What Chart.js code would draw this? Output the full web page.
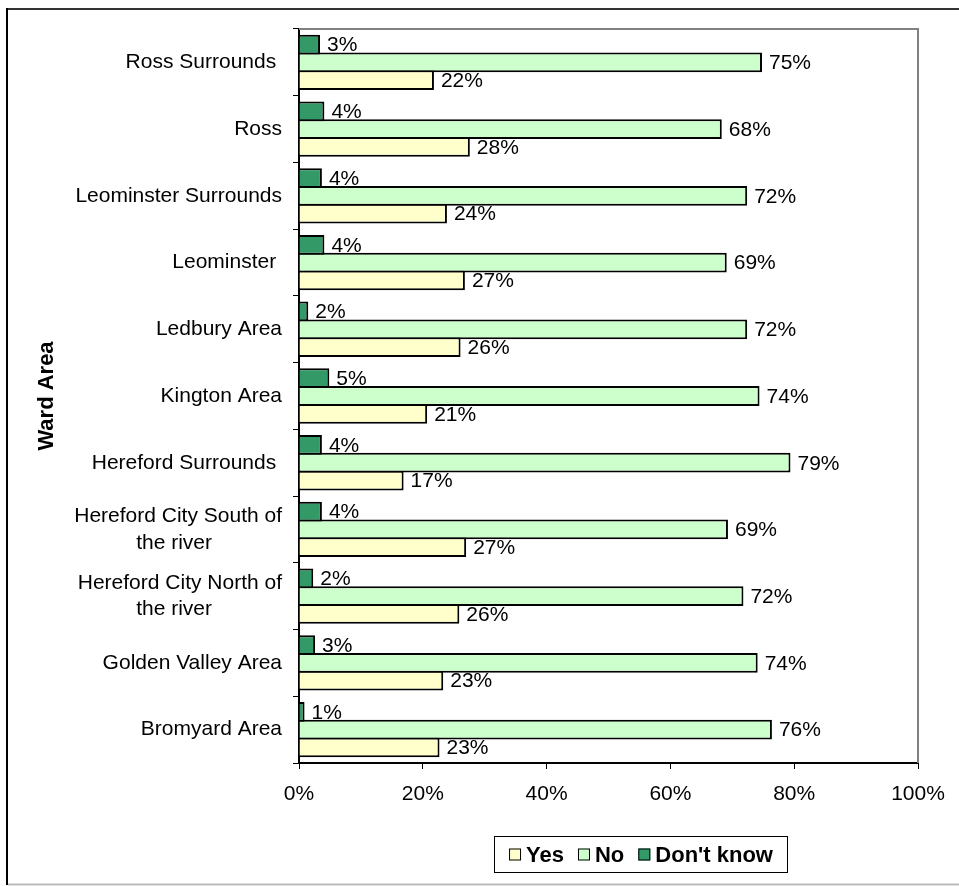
<!DOCTYPE html>
<html>
<head>
<meta charset="utf-8">
<script src="https://cdn.jsdelivr.net/npm/chart.js@4.4.0/dist/chart.umd.min.js"></script>
<style>
  html, body { margin: 0; padding: 0; background: #fff; }
  #wrap { width: 959px; height: 886px; position: relative; }
</style>
</head>
<body>
<div id="wrap"><canvas id="barchart"></canvas></div>
<script>
// categories listed bottom-to-top, like the Excel original (axis is reversed)
const wards = [
  'Bromyard Area',
  'Golden Valley Area',
  ['Hereford City North of', 'the river            '],
  ['Hereford City South of', 'the river            '],
  'Hereford Surrounds ',
  'Kington Area',
  'Ledbury Area',
  'Leominster ',
  'Leominster Surrounds',
  'Ross',
  'Ross Surrounds '
];
const yesValues      = [22.7, 23.3, 25.9, 27.0, 16.9, 20.7, 26.1, 26.8, 23.9, 27.6, 21.8];
const noValues       = [76.4, 74.1, 71.8, 69.3, 79.4, 74.4, 72.4, 69.1, 72.4, 68.3, 74.8];
const dontKnowValues = [0.9, 2.6, 2.3, 3.7, 3.7, 4.9, 1.5, 4.1, 3.7, 4.1, 3.4];
const xTicks = [0, 20, 40, 60, 80, 100];

const FONT = '"Liberation Sans", Arial, sans-serif';

// outer chart frame + plot area frame
const frames = {
  id: 'frames',
  beforeDraw(chart) {
    const ctx = chart.ctx;
    ctx.save();
    ctx.fillStyle = '#fff';
    ctx.fillRect(0, 0, chart.width, chart.height);
    ctx.lineWidth = 2;
    ctx.strokeStyle = '#333';
    ctx.beginPath();
    ctx.moveTo(7, 9); ctx.lineTo(chart.width, 9);
    ctx.stroke();
    ctx.strokeStyle = '#000';
    ctx.beginPath();
    ctx.moveTo(7, 8); ctx.lineTo(7, 885);
    ctx.stroke();
    ctx.strokeStyle = '#bbb';
    ctx.beginPath();
    ctx.moveTo(8, 884.5); ctx.lineTo(chart.width, 884.5);
    ctx.stroke();
    ctx.restore();
  },
  beforeDatasetsDraw(chart) {
    const {ctx, chartArea: a} = chart;
    ctx.save();
    ctx.strokeStyle = '#808080';
    ctx.lineWidth = 2;
    ctx.beginPath();
    ctx.moveTo(a.left, a.top);
    ctx.lineTo(a.right, a.top);
    ctx.lineTo(a.right, a.bottom);
    ctx.stroke();
    ctx.restore();
  }
};

// percentage labels at the end of each bar
const barLabels = {
  id: 'barLabels',
  afterDatasetsDraw(chart) {
    const ctx = chart.ctx;
    ctx.save();
    ctx.font = '21px ' + FONT;
    ctx.fillStyle = '#000';
    ctx.textAlign = 'left';
    ctx.textBaseline = 'middle';
    chart.data.datasets.forEach((ds, i) => {
      chart.getDatasetMeta(i).data.forEach((bar, j) => {
        ctx.fillText(Math.round(ds.data[j]) + '%', bar.x + 7, bar.y + 1);
      });
    });
    ctx.restore();
  }
};

// boxed legend, placed like the original (Yes, No, Don't know)
const legendBox = {
  id: 'legendBox',
  afterDraw(chart) {
    const ctx = chart.ctx;
    const left = 494.5, top = 836.5, w = 293, h = 36;
    ctx.save();
    ctx.strokeStyle = '#000';
    ctx.lineWidth = 1;
    ctx.strokeRect(left, top, w, h);
    ctx.font = 'bold 22px ' + FONT;
    ctx.textBaseline = 'middle';
    const items = chart.data.datasets.slice().reverse().map(ds => ({
      text: ds.label, color: ds.backgroundColor, tw: ctx.measureText(ds.label).width
    }));
    const box = 12, gap = 5, space = 14;
    let total = items.reduce((s, it) => s + box + gap + it.tw, 0) + space * (items.length - 1);
    let x = left + (w - total) / 2;
    const cy = top + h / 2;
    items.forEach(it => {
      ctx.fillStyle = it.color;
      ctx.fillRect(x, cy - box / 2, box, box);
      ctx.strokeRect(x + 0.5, cy - box / 2 + 0.5, box - 1, box - 1);
      ctx.fillStyle = '#000';
      ctx.fillText(it.text, x + box + gap, cy + 1);
      x += box + gap + it.tw + space;
    });
    ctx.restore();
  }
};

const ctx = document.getElementById('barchart').getContext('2d');
const barchart = new Chart(ctx, {
  type: 'bar',
  data: {
    labels: wards,
    // top bar of each group first
    datasets: [{
      label: "Don't know",
      data: dontKnowValues,
      backgroundColor: '#339966'
    }, {
      label: 'No',
      data: noValues,
      backgroundColor: '#CCFFCC'
    }, {
      label: 'Yes',
      data: yesValues,
      backgroundColor: '#FFFFCC'
    }]
  },
  options: {
    indexAxis: 'y',
    responsive: true,
    maintainAspectRatio: false,
    animation: false,
    devicePixelRatio: 1,
    layout: { padding: { top: 29, right: 41, bottom: 83, left: 0 } },
    datasets: {
      bar: {
        borderColor: '#000',
        borderWidth: 2,
        categoryPercentage: 0.8,
        barPercentage: 1.11
      }
    },
    scales: {
      x: {
        min: 0,
        max: 100,
        afterFit: s => { s.height = 40; },
        afterBuildTicks: s => { s.ticks = xTicks.map(v => ({ value: v })); },
        ticks: {
          color: '#000',
          padding: 13,
          font: { family: FONT, size: 21 },
          callback: v => v + '%'
        },
        grid: { drawOnChartArea: false, tickLength: 6, color: '#000' },
        border: { color: '#000', width: 2 }
      },
      y: {
        reverse: true,
        afterFit: s => { s.width = 299; },
        ticks: {
          color: '#000',
          padding: 11,
          font: { family: FONT, size: 21, lineHeight: 1.27 }
        },
        grid: { drawOnChartArea: false, tickLength: 6, color: '#000' },
        border: { color: '#000', width: 2 },
        title: {
          display: true,
          text: 'Ward Area',
          color: '#000',
          font: { family: FONT, size: 22, weight: 'bold' },
          padding: { top: 34 }
        }
      }
    },
    plugins: {
      legend: { display: false },
      tooltip: { enabled: false }
    }
  },
  plugins: [frames, barLabels, legendBox]
});
</script>
</body>
</html>
